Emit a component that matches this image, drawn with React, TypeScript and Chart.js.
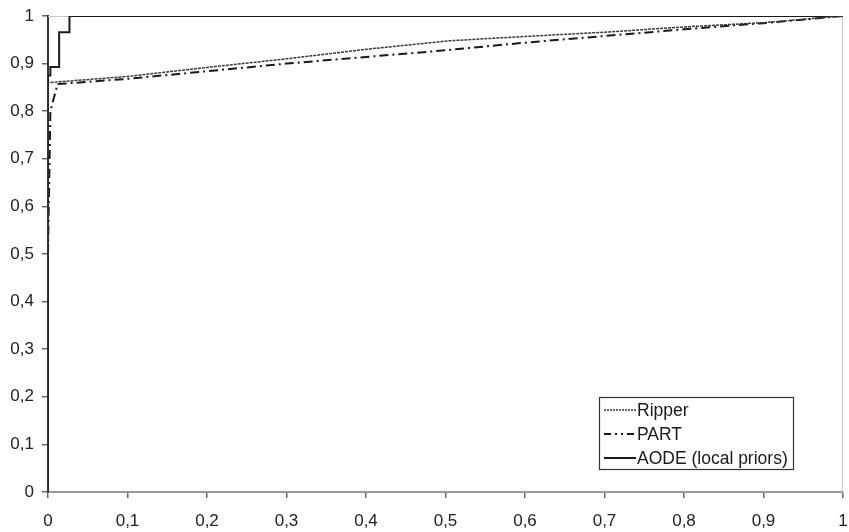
import React, { useEffect, useRef } from "react";
import { Chart, registerables } from "chart.js";

Chart.register(...registerables);

const seriesNames = ["Ripper", "PART", "AODE (local priors)"];

const ripperX = [0, 0, 0.1, 0.2, 0.3, 0.4, 0.505, 0.6, 0.7, 0.8, 0.9, 1];
const ripperY = [0, 0.86, 0.873, 0.892, 0.91, 0.93, 0.948, 0.957, 0.966, 0.977, 0.986, 1];

const partX = [0, 0.003, 0.012, 0.1, 0.2, 0.3, 0.4, 0.5, 0.6, 0.7, 0.8, 0.9, 1];
const partY = [0.5, 0.8, 0.857, 0.868, 0.884, 0.9, 0.914, 0.928, 0.944, 0.958, 0.972, 0.985, 1];

const aodeX = [0, 0, 0.003, 0.003, 0.014, 0.014, 0.027, 0.027, 1];
const aodeY = [0, 0.875, 0.875, 0.893, 0.893, 0.966, 0.966, 1, 1];

const tickValues = [0, 0.1, 0.2, 0.3, 0.4, 0.5, 0.6, 0.7, 0.8, 0.9, 1];

const fmt = (v: number) => String(Math.round(v * 10) / 10).replace(".", ",");

const toPts = (xs: number[], ys: number[]) => xs.map((x, i) => ({ x, y: ys[i] }));

const FONT = "'Liberation Sans', Arial, sans-serif";

const styles = [
  { color: "#3a3a3a", width: 1.5, dash: [3, 1] },
  { color: "#1a1a1a", width: 2, dash: [9, 4, 2, 4] },
  { color: "#1a1a1a", width: 2, dash: [] as number[] },
];

const legendDash = [[2, 1], [7, 4, 2, 4, 2, 4], [] as number[]];

const overlayPlugin = {
  id: "overlay",
  beforeDatasetsDraw(chart: any) {
    const { ctx, chartArea: a } = chart;
    ctx.save();
    ctx.strokeStyle = "#c8c8c8";
    ctx.lineWidth = 1;
    ctx.beginPath();
    ctx.moveTo(a.left, a.top + 0.5);
    ctx.lineTo(a.right - 0.5, a.top + 0.5);
    ctx.lineTo(a.right - 0.5, a.bottom);
    ctx.stroke();
    ctx.restore();
  },
  afterDraw(chart: any) {
    const { ctx } = chart;
    const left = 599;
    const top = 397;
    const w = 194;
    const h = 72;
    ctx.save();
    ctx.fillStyle = "#ffffff";
    ctx.fillRect(left, top, w, h);
    ctx.strokeStyle = "#333";
    ctx.lineWidth = 1.2;
    ctx.strokeRect(left + 0.5, top + 0.5, w, h);
    ctx.font = `17.5px ${FONT}`;
    ctx.textBaseline = "middle";
    ctx.fillStyle = "#1a1a1a";
    seriesNames.forEach((name, i) => {
      const y = 410 + i * 24;
      const s = styles[i];
      ctx.strokeStyle = s.color;
      ctx.lineWidth = s.width;
      ctx.setLineDash(legendDash[i]);
      ctx.beginPath();
      ctx.moveTo(604, y);
      ctx.lineTo(636, y);
      ctx.stroke();
      ctx.setLineDash([]);
      ctx.fillText(name, 637, y + 1);
    });
    ctx.restore();
  },
};

export default function App() {
  const ref = useRef<HTMLCanvasElement | null>(null);
  useEffect(() => {
    if (!ref.current) return;
    const data = [toPts(ripperX, ripperY), toPts(partX, partY), toPts(aodeX, aodeY)];
    const chart = new Chart(ref.current, {
      type: "line",
      data: {
        datasets: seriesNames.map((name, i) => ({
          label: name,
          data: data[i],
          borderColor: styles[i].color,
          borderWidth: styles[i].width,
          borderDash: styles[i].dash,
          pointRadius: 0,
          fill: false,
          tension: 0,
        })),
      },
      options: {
        animation: false,
        responsive: false,
        maintainAspectRatio: false,
        layout: { padding: { top: 16, right: 6, left: 0, bottom: 0 } },
        plugins: { legend: { display: false }, tooltip: { enabled: false } },
        scales: {
          x: {
            type: "linear",
            min: 0,
            max: 1,
            afterBuildTicks: (s: any) => {
              s.ticks = tickValues.map((v) => ({ value: v }));
            },
            afterFit: (s: any) => {
              s.height = 40;
              s.paddingLeft = 0;
              s.paddingRight = 0;
            },
            ticks: {
              callback: (v: any) => fmt(Number(v)),
              color: "#222",
              font: { family: FONT, size: 17 },
              padding: 13,
              maxRotation: 0,
              autoSkip: false,
            },
            grid: { drawOnChartArea: false, drawTicks: true, tickLength: 6, color: "#666", lineWidth: 1.5 },
            border: { display: true, color: "#9a9a9a", width: 2 },
          },
          y: {
            type: "linear",
            min: 0,
            max: 1,
            afterBuildTicks: (s: any) => {
              s.ticks = tickValues.map((v) => ({ value: v }));
            },
            afterFit: (s: any) => {
              s.width = 48;
              s.paddingTop = 0;
              s.paddingBottom = 0;
            },
            ticks: {
              callback: (v: any) => fmt(Number(v)),
              color: "#222",
              font: { family: FONT, size: 17 },
              padding: 8,
              autoSkip: false,
            },
            grid: { drawOnChartArea: false, drawTicks: true, tickLength: 6, color: "#666", lineWidth: 1.5 },
            border: { display: true, color: "#333", width: 2 },
          },
        },
      },
      plugins: [overlayPlugin],
    } as any);
    return () => chart.destroy();
  }, []);
  return (
    <div style={{ position: "fixed", left: 0, top: 0, width: 849, height: 532, background: "#fff" }}>
      <canvas ref={ref} width={849} height={532} style={{ width: 849, height: 532 }} />
    </div>
  );
}
